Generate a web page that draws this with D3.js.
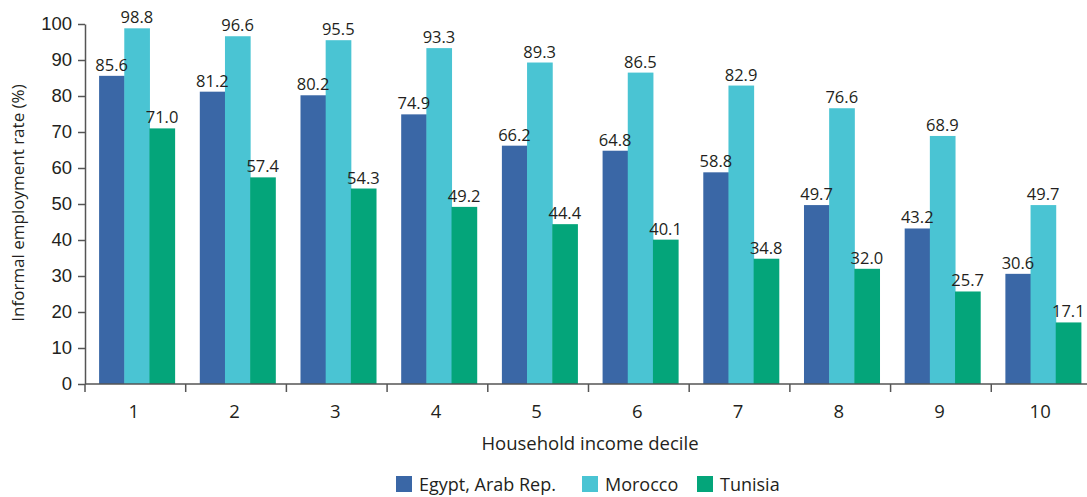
<!DOCTYPE html>
<html>
<head>
<meta charset="utf-8">
<script src="https://cdn.jsdelivr.net/npm/d3@7"></script>
<style>
  body { margin: 0; background: #fff; }
  svg { display: block; font-family: "Open Sans", "Noto Sans", sans-serif; }
</style>
</head>
<body>
<svg width="1087" height="497"></svg>
<script>
// deciles on the x axis
const deciles = ['1', '2', '3', '4', '5', '6', '7', '8', '9', '10'];
const countries = ['Egypt, Arab Rep.', 'Morocco', 'Tunisia'];
// informal employment rate per decile (%)
const egypt = [85.6, 81.2, 80.2, 74.9, 66.2, 64.8, 58.8, 49.7, 43.2, 30.6];
const morocco = [98.8, 96.6, 95.5, 93.3, 89.3, 86.5, 82.9, 76.6, 68.9, 49.7];
const tunisia = [71.0, 57.4, 54.3, 49.2, 44.4, 40.1, 34.8, 32.0, 25.7, 17.1];
const yTicks = [0, 10, 20, 30, 40, 50, 60, 70, 80, 90, 100];

const colors = ['#3a67a6', '#4ac4d3', '#04a57a'];
const series = [egypt, morocco, tunisia];

// flatten to one record per bar
const data = [];
deciles.forEach((d, i) => {
  countries.forEach((c, j) => {
    data.push({ decile: d, country: c, value: series[j][i] });
  });
});

const svg = d3.select('svg');
const axisColor = '#555';
const textColor = '#231f20';

const x = d3.scaleBand()
  .domain(deciles)
  .range([85, 1095])
  .paddingInner(0.25)
  .paddingOuter(0.14);

const xSub = d3.scaleBand()
  .domain(countries)
  .range([0, x.bandwidth()]);

const y = d3.scaleLinear()
  .domain([0, 100])
  .range([384, 24]);

const color = d3.scaleOrdinal().domain(countries).range(colors);

// bars
svg.append('g')
  .selectAll('rect')
  .data(data)
  .join('rect')
    .attr('x', d => x(d.decile) + xSub(d.country))
    .attr('y', d => y(d.value))
    .attr('width', xSub.bandwidth() + 0.5)
    .attr('height', d => y(0) - y(d.value))
    .attr('fill', d => color(d.country));

// value labels
svg.append('g')
  .selectAll('text')
  .data(data)
  .join('text')
    .attr('x', d => x(d.decile) + xSub(d.country) + xSub.bandwidth() / 2)
    .attr('y', d => y(d.value) - 5)
    .attr('text-anchor', 'middle')
    .attr('font-size', 16.5)
    .attr('fill', textColor)
    .text(d => d.value.toFixed(1));

// y axis
const yAxis = svg.append('g')
  .attr('transform', 'translate(85,0)')
  .call(d3.axisLeft(y).tickValues(yTicks).tickSize(7).tickPadding(6).tickSizeOuter(0));
yAxis.select('.domain').attr('stroke', axisColor).attr('stroke-width', 1.5);
yAxis.selectAll('line').attr('stroke', axisColor).attr('stroke-width', 1.5);
yAxis.selectAll('text').attr('font-size', 18.5).attr('fill', textColor).attr('font-family', null);

// x axis: ticks sit at the band boundaries
const xAxisG = svg.append('g').attr('transform', 'translate(0,384)');
xAxisG.append('line')
  .attr('x1', 85).attr('x2', 1087)
  .attr('stroke', axisColor).attr('stroke-width', 1.5);
xAxisG.selectAll('.tick')
  .data(deciles)
  .join('line')
    .attr('class', 'tick')
    .attr('x1', d => 85 + deciles.indexOf(d) * x.step())
    .attr('x2', d => 85 + deciles.indexOf(d) * x.step())
    .attr('y1', 0).attr('y2', 8)
    .attr('stroke', axisColor).attr('stroke-width', 1.5);
xAxisG.selectAll('.lab')
  .data(deciles)
  .join('text')
    .attr('class', 'lab')
    .attr('x', d => x(d) + x.bandwidth() / 2 - 3)
    .attr('y', 34)
    .attr('text-anchor', 'middle')
    .attr('font-size', 18.5)
    .attr('fill', textColor)
    .text(d => d);

// axis titles
svg.append('text')
  .attr('x', 590).attr('y', 450)
  .attr('text-anchor', 'middle')
  .attr('font-size', 18.5)
  .attr('fill', textColor)
  .text('Household income decile');

svg.append('text')
  .attr('transform', 'translate(24,203) rotate(-90)')
  .attr('text-anchor', 'middle')
  .attr('font-size', 17)
  .attr('fill', textColor)
  .text('Informal employment rate (%)');

// legend
const legendX = [396, 582, 697];
const legend = svg.selectAll('.legend')
  .data(countries)
  .join('g')
    .attr('class', 'legend')
    .attr('transform', (d, i) => `translate(${legendX[i]},476)`);
legend.append('rect')
  .attr('width', 16).attr('height', 16)
  .attr('fill', d => color(d));
legend.append('text')
  .attr('x', 23).attr('y', 15)
  .attr('font-size', 18)
  .attr('fill', textColor)
  .text(d => d);
</script>
</body>
</html>
